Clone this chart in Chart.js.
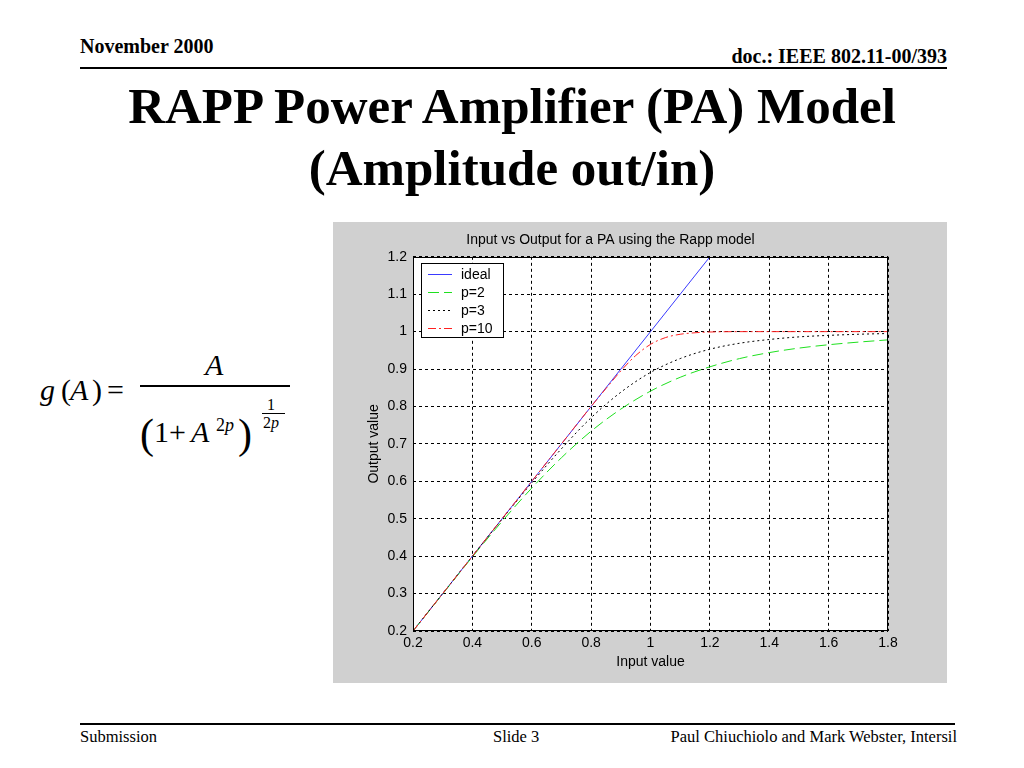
<!DOCTYPE html>
<html>
<head>
<meta charset="utf-8">
<script src="https://cdn.jsdelivr.net/npm/chart.js@4.4.0/dist/chart.umd.min.js"></script>
<style>
  html, body { margin: 0; padding: 0; background: #fff; }
  #slide { position: relative; width: 1024px; height: 768px; overflow: hidden; font-family: "Liberation Serif", "Times New Roman", serif; color: #000; }
  .t { position: absolute; white-space: nowrap; line-height: 1; }
  .rule { position: absolute; background: #000; }
  #plotBox { position: absolute; left: 333px; top: 222px; width: 614px; height: 461px; background: #d0d0d0; }
</style>
</head>
<body>
<div id="slide">
  <div class="t" style="left:80px; top:36px; font-size:20px; font-weight:bold;">November 2000</div>
  <div class="t" style="right:77px; top:46px; font-size:20px; font-weight:bold;">doc.: IEEE 802.11-00/393</div>
  <div class="rule" style="left:80px; top:67px; width:867px; height:2px;"></div>

  <div class="t" style="left:0; width:1024px; text-align:center; top:81px; font-size:51px; font-weight:bold;">RAPP Power Amplifier (PA) Model</div>
  <div class="t" style="left:0; width:1024px; text-align:center; top:143px; font-size:51px; font-weight:bold;">(Amplitude out/in)</div>

  <!-- formula -->
  <div class="t" style="left:40px; top:375px; font-size:30px;"><i>g</i></div>
  <div class="t" style="left:61px; top:375px; font-size:30px;">(</div>
  <div class="t" style="left:70px; top:375px; font-size:30px;"><i>A</i></div>
  <div class="t" style="left:92px; top:375px; font-size:30px;">)</div>
  <div class="t" style="left:107px; top:375px; font-size:30px;">=</div>
  <div class="t" style="left:205px; top:350px; font-size:30px;"><i>A</i></div>
  <div class="rule" style="left:140px; top:385px; width:150px; height:2px;"></div>
  <div class="t" style="left:140px; top:413px; font-size:42px;">(</div>
  <div class="t" style="left:154px; top:417px; font-size:30px;">1+</div>
  <div class="t" style="left:191px; top:417px; font-size:30px;"><i>A</i></div>
  <div class="t" style="left:216px; top:416px; font-size:18px;">2<i>p</i></div>
  <div class="t" style="left:238px; top:413px; font-size:42px;">)</div>
  <div class="t" style="left:267px; top:397px; font-size:16px;">1</div>
  <div class="rule" style="left:262px; top:413px; width:23px; height:1px;"></div>
  <div class="t" style="left:263px; top:415px; font-size:16px;">2<i>p</i></div>

  <div id="plotBox"><canvas id="chart" width="614" height="461"></canvas></div>

  <div class="rule" style="left:80px; top:723px; width:875px; height:2px;"></div>
  <div class="t" style="left:80px; top:729px; font-size:16.5px;">Submission</div>
  <div class="t" style="left:493px; top:729px; font-size:16.5px;">Slide 3</div>
  <div class="t" style="right:67px; top:729px; font-size:16.5px;">Paul Chiuchiolo and Mark Webster, Intersil</div>
</div>

<script>
// values
var idealInput = [0.2, 0.4, 0.6, 0.8, 1.0, 1.2];
var idealOutput = [0.2, 0.4, 0.6, 0.8, 1.0, 1.2];

var inputValues = [0.2, 0.3, 0.4, 0.5, 0.6, 0.7, 0.8, 0.9, 1.0, 1.1, 1.2, 1.3, 1.4, 1.5, 1.6, 1.7, 1.8];
var outputP2 = [0.200, 0.299, 0.398, 0.493, 0.582, 0.663, 0.734, 0.793, 0.841, 0.878, 0.906, 0.928, 0.944, 0.956, 0.965, 0.972, 0.978];
var outputP3 = [0.200, 0.300, 0.400, 0.499, 0.596, 0.687, 0.770, 0.838, 0.891, 0.928, 0.953, 0.969, 0.979, 0.986, 0.990, 0.993, 0.995];

var inputP10 = [0.2, 0.4, 0.6, 0.7, 0.8, 0.85, 0.9, 0.95, 1.0, 1.05, 1.1, 1.15, 1.2, 1.3, 1.4, 1.6, 1.8];
var outputP10 = [0.200, 0.400, 0.600, 0.700, 0.800, 0.848, 0.895, 0.936, 0.966, 0.984, 0.993, 0.997, 0.999, 1.000, 1.000, 1.000, 1.000];

var seriesLabels = ["ideal", "p=2", "p=3", "p=10"];
var xTicks = { min: 0.2, max: 1.8, step: 0.2 };
var yTicks = { min: 0.2, max: 1.2, step: 0.1 };

function pairs( xs, ys ) {
	return xs.map( function( x, i ) { return { x: x, y: ys[i] }; } );
}

function tickLabel( v ) {
	return String( Number( v.toFixed( 1 ) ) );
}

// white axes area, solid box and the MATLAB style legend
var matlabFrame = {
	id: "matlabFrame",
	beforeDraw: function( chart ) {
		var a = chart.chartArea, ctx = chart.ctx;
		ctx.save();
		ctx.fillStyle = "#fff";
		ctx.fillRect( a.left, a.top, a.right - a.left, a.bottom - a.top );
		ctx.restore();
	},
	afterDraw: function( chart ) {
		var a = chart.chartArea, ctx = chart.ctx;
		var l = Math.round( a.left ), t = Math.round( a.top );
		ctx.save();
		ctx.setLineDash( [] );
		ctx.lineWidth = 1;
		ctx.strokeStyle = "#000";
		ctx.strokeRect( l + 0.5, t + 0.5, Math.round( a.right ) - l - 1, Math.round( a.bottom ) - t - 1 );

		var x0 = l + 8, y0 = t + 6;
		ctx.fillStyle = "#fff";
		ctx.fillRect( x0, y0, 82, 74 );
		ctx.strokeRect( x0 + 0.5, y0 + 0.5, 82, 74 );
		ctx.font = '14px "Liberation Sans", Arial, sans-serif';
		ctx.textBaseline = "middle";
		chart.data.datasets.forEach( function( ds, i ) {
			var y = y0 + 11 + i * 18;
			ctx.strokeStyle = ds.borderColor;
			ctx.setLineDash( ds.borderDash || [] );
			ctx.beginPath();
			ctx.moveTo( x0 + 7, y + 0.5 );
			ctx.lineTo( x0 + 31, y + 0.5 );
			ctx.stroke();
			ctx.setLineDash( [] );
			ctx.fillStyle = "#000";
			ctx.fillText( ds.label, x0 + 40, y + 1 );
		} );
		ctx.restore();
	}
};

Chart.defaults.font.family = '"Liberation Sans", Arial, sans-serif';
Chart.defaults.font.size = 14;
Chart.defaults.color = "#000";

new Chart( document.getElementById( "chart" ), {
	type: "line",
	data: {
		datasets: [
			{ label: seriesLabels[0], data: pairs( idealInput, idealOutput ), borderColor: "#3a3aff", borderWidth: 1, order: 4 },
			{ label: seriesLabels[1], data: pairs( inputValues, outputP2 ), borderColor: "#1fe01f", borderWidth: 1, borderDash: [11, 5], cubicInterpolationMode: "monotone", order: 3 },
			{ label: seriesLabels[2], data: pairs( inputValues, outputP3 ), borderColor: "#000000", borderWidth: 1, borderDash: [2, 3], cubicInterpolationMode: "monotone", order: 2 },
			{ label: seriesLabels[3], data: pairs( inputP10, outputP10 ), borderColor: "#ff2020", borderWidth: 1, borderDash: [8, 3, 2, 3], cubicInterpolationMode: "monotone", order: 1 }
		]
	},
	options: {
		responsive: false,
		animation: false,
		elements: { point: { radius: 0 } },
		layout: { padding: { left: 0, right: 59, top: 0, bottom: 0 } },
		plugins: {
			legend: { display: false },
			tooltip: { enabled: false },
			title: {
				display: true,
				text: "Input vs Output for a PA using the Rapp model",
				font: { size: 14, weight: "normal" },
				color: "#000",
				padding: { top: 10, bottom: 8 }
			}
		},
		scales: {
			x: {
				type: "linear",
				min: xTicks.min,
				max: xTicks.max,
				ticks: { stepSize: xTicks.step, padding: 4, callback: tickLabel, maxRotation: 0 },
				grid: { color: "#000", lineWidth: 1, drawTicks: false },
				border: { display: false, dash: [3, 3] },
				title: { display: true, text: "Input value", font: { size: 14 }, padding: { top: 0, bottom: 12 } },
				afterFit: function( scale ) { scale.height = 52; }
			},
			y: {
				type: "linear",
				min: yTicks.min,
				max: yTicks.max,
				ticks: { stepSize: yTicks.step, padding: 6, callback: tickLabel },
				grid: { color: "#000", lineWidth: 1, drawTicks: false },
				border: { display: false, dash: [3, 3] },
				title: { display: true, text: "Output value", font: { size: 14 }, padding: { top: 33, bottom: 0 } },
				afterFit: function( scale ) { scale.width = 80; }
			}
		}
	},
	plugins: [ matlabFrame ]
} );
</script>
</body>
</html>
